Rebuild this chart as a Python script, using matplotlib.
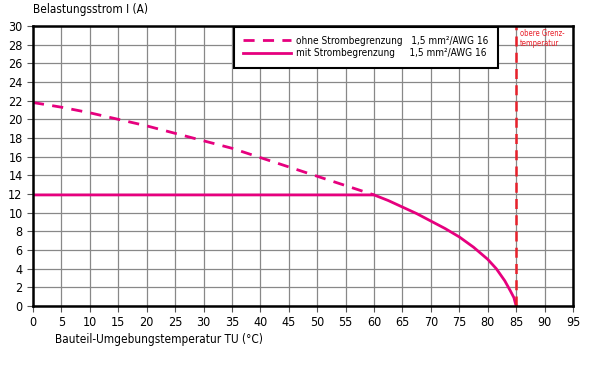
import matplotlib
matplotlib.use("Agg")
import matplotlib.pyplot as plt

plt.rcParams['font.family'] = ['DejaVu Sans']
plt.rcParams['font.stretch'] = 'condensed'

# Daten
temp_ohne = [0, 5, 10, 15, 20, 25, 30, 35, 40, 45, 50, 55, 60]
strom_ohne = [21.8, 21.3, 20.7, 20.0, 19.3, 18.5, 17.7, 16.9, 15.9, 14.9, 13.9, 12.9, 11.9]
temp_mit = [0, 60, 62.5, 65, 67.5, 70, 72.5, 75, 77.5, 80, 81.5, 83, 84, 84.6, 85]
strom_mit = [11.9, 11.9, 11.3, 10.6, 9.9, 9.1, 8.3, 7.4, 6.3, 5.0, 4.0, 2.7, 1.6, 0.9, 0]
grenz_temp = 85

x_ticks = list(range(0, 100, 5))
y_ticks = list(range(0, 32, 2))

pink = "#e6007e"

fig = plt.figure(figsize=(5.9, 3.73), dpi=100)
ax = fig.add_axes([33/590, 1-306/373, (573-33)/590, (306-26)/373])

ax.plot(temp_ohne, strom_ohne, "--", color=pink, linewidth=2, dashes=(4, 3),
        label="ohne Strombegrenzung   1,5 mm²/AWG 16")
ax.plot(temp_mit, strom_mit, "-", color=pink, linewidth=2,
        label="mit Strombegrenzung     1,5 mm²/AWG 16")
ax.axvline(grenz_temp, color="#e8202a", linestyle="--", linewidth=1.8, dashes=(4, 2.5))
ax.text(grenz_temp + 0.7, 29.7, "obere Grenz-\ntemperatur", color="#e8202a",
        fontsize=5.5, va="top", ha="left")

ax.set_xlim(0, 95)
ax.set_ylim(0, 30)
ax.set_xticks(x_ticks)
ax.set_yticks(y_ticks)
ax.tick_params(labelsize=9, length=4, width=0.8, color="#555555")
ax.grid(color="#888888", linewidth=0.9)
for s in ax.spines.values():
    s.set_linewidth(1.8)

leg = ax.legend(loc="upper left", bbox_to_anchor=((233-33)/540, 1.0), fontsize=7.2,
                handlelength=4.8, handletextpad=0.6, fancybox=False, framealpha=1,
                edgecolor="black", borderpad=0.9, labelspacing=0.3, borderaxespad=0.05)
leg.get_frame().set_linewidth(1.5)

fig.text(33/590, 1-9/373, "Belastungsstrom I (A)", fontsize=8.5, va="center", ha="left")
fig.text(55/590, 1-340/373, "Bauteil-Umgebungstemperatur TU (°C)", fontsize=8.5, va="center", ha="left")

fig.savefig("out.png", dpi=100)
